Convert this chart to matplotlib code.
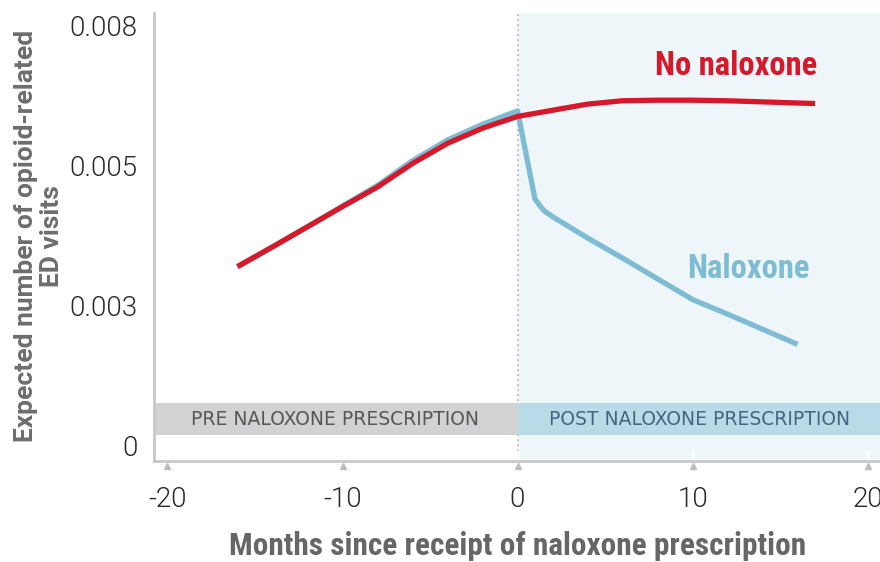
import matplotlib
matplotlib.use("Agg")
import matplotlib.pyplot as plt
from matplotlib import font_manager
from matplotlib.patches import Rectangle
import matplotlib.transforms as mtransforms

# ---------------- data ----------------
red_months = [-16, -14, -12, -10, -8, -6, -4, -2, 0, 2, 4, 6, 8, 10, 12, 14, 16, 17]
red_values = [0.00320, 0.00355, 0.00391, 0.00427, 0.00462, 0.00504, 0.00540, 0.00567, 0.00588,
              0.00599, 0.00610, 0.00616, 0.00617, 0.00617, 0.00616, 0.00614, 0.00612, 0.00611]
blue_months = [-16, -14, -12, -10, -8, -6, -4, -2, 0, 1, 1.5, 2, 4, 6, 8, 10, 12, 14, 16]
blue_values = [0.00319, 0.00355, 0.00391, 0.00428, 0.00465, 0.00509, 0.00546, 0.00574, 0.00598,
               0.00440, 0.00420, 0.00409, 0.00371, 0.00335, 0.00298, 0.00261, 0.00235, 0.00208, 0.00181]
x_ticks = [-20, -10, 0, 10, 20]
y_ticks = [0, 0.0025, 0.005, 0.0075]
y_tick_labels = ["0", "0.003", "0.005", "0.008"]
series_labels = ["No naloxone", "Naloxone"]
band_labels = ["PRE NALOXONE PRESCRIPTION", "POST NALOXONE PRESCRIPTION"]
x_label = "Months since receipt of naloxone prescription"
y_label = "Expected number of opioid-related\nED visits"

# ---------------- fonts ----------------
def has_font(name):
    try:
        font_manager.findfont(font_manager.FontProperties(family=name), fallback_to_default=False)
        return True
    except Exception:
        return False

COND = "Roboto Condensed" if has_font("Roboto Condensed") else "Roboto"
BASE = "Roboto"
BAND = "DejaVu Sans"
plt.rcParams["font.family"] = [BASE, "DejaVu Sans"]

RED = "#d6182b"
BLUE = "#7dbcd2"

fig = plt.figure(figsize=(8.8, 5.62), dpi=100)
ax = fig.add_axes([154 / 880, 1 - 461 / 562, 1 - 154 / 880, (461 - 13) / 562])
ax.set_xlim(-20.77, 20.71)
ax.set_ylim(-0.000273, 0.007727)

# post shading
ax.axvspan(0, 20.71, color="#eef6f9", zorder=0, lw=0)
ax.axvline(0, color="#b0b0b0", lw=1.2, ls=(0, (1, 2)), zorder=1)

# bands
ax.add_patch(Rectangle((-20.77, 0.00019), 20.77, 0.000567, facecolor="#d2d2d4", edgecolor="none", zorder=2))
ax.add_patch(Rectangle((0, 0.00019), 20.71, 0.000567, facecolor="#b9dbe8", edgecolor="none", zorder=2))
ax.text(-10.45, 0.000475, band_labels[0], ha="center", va="center", fontsize=13.5,
        color="#575757", family=[BAND], zorder=3)
ax.text(10.4, 0.000475, band_labels[1], ha="center", va="center", fontsize=13.5,
        color="#46647f", family=[BAND], zorder=3)

# lines
ax.plot(blue_months, blue_values, color=BLUE, lw=3.8, solid_capstyle="butt", solid_joinstyle="round", zorder=4)
ax.plot(red_months, red_values, color=RED, lw=3.8, solid_capstyle="butt", solid_joinstyle="round", zorder=5)

ax.text(17.1, 0.00662, series_labels[0], ha="right", va="baseline", fontsize=23.5,
        fontweight="bold", color=RED, family=[COND, "DejaVu Sans"], zorder=6)
ax.text(16.7, 0.00299, series_labels[1], ha="right", va="baseline", fontsize=23.5,
        fontweight="bold", color=BLUE, family=[COND, "DejaVu Sans"], zorder=6)

# axes styling
for s in ["top", "right"]:
    ax.spines[s].set_visible(False)
for s in ["left", "bottom"]:
    ax.spines[s].set_color("#c8c8c8")
    ax.spines[s].set_linewidth(2)
    ax.spines[s].set_zorder(7)

ax.set_xticks(x_ticks)
ax.set_xticklabels([str(t) for t in x_ticks])
ax.set_yticks(y_ticks)
ax.set_yticklabels(y_tick_labels)
ax.tick_params(axis="x", direction="in", length=8, width=2, color="white", pad=18,
               labelsize=20, labelcolor="#2a2a2a")
ax.tick_params(axis="y", length=0, pad=12, labelsize=20, labelcolor="#2a2a2a")
for lab in ax.get_xticklabels() + ax.get_yticklabels():
    lab.set_fontweight(300)
    lab.set_family([BASE, "DejaVu Sans"])

trans = mtransforms.blended_transform_factory(ax.transData, ax.transAxes)
ax.plot(x_ticks, [-0.011] * len(x_ticks), ls="none", marker="^", ms=5, color="#bdbdbd",
        transform=trans, clip_on=False, zorder=8)

fig.text(517.6 / 880, 1 - 555 / 562, x_label, ha="center", va="baseline", fontsize=22.5,
         fontweight="bold", color="#666666", family=[COND, "DejaVu Sans"])
fig.text(39 / 880, 1 - 236 / 562, y_label, ha="center", va="center", rotation=90,
         fontsize=19, fontweight="bold", color="#6d6d6d", linespacing=1.15,
         family=[BASE, "DejaVu Sans"])

fig.savefig("out.png", dpi=100)
